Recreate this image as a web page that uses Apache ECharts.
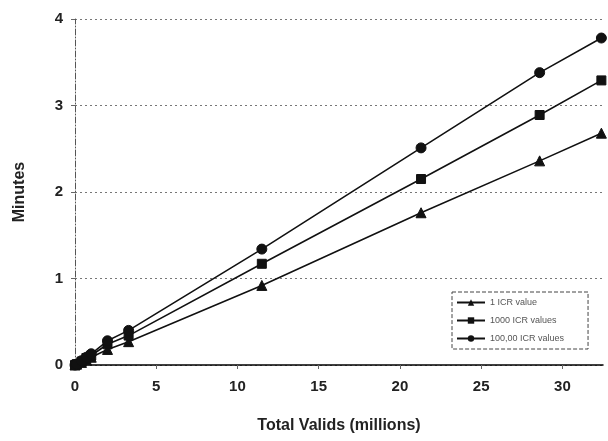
<!DOCTYPE html>
<html><head><meta charset="utf-8">
<script src="https://cdn.jsdelivr.net/npm/echarts@6/dist/echarts.min.js"></script>
<style>html,body{margin:0;padding:0;background:#fff}#c{width:608px;height:441px}</style>
</head><body><div id="c"></div>
<script>
var xValues = [0, 0.1, 0.4, 0.7, 1.0, 2.0, 3.3, 11.5, 21.3, 28.6, 32.4];
var oneICR = [0, 0.01, 0.03, 0.06, 0.09, 0.18, 0.27, 0.92, 1.76, 2.36, 2.68];
var thousandICR = [0, 0.01, 0.04, 0.08, 0.11, 0.24, 0.34, 1.17, 2.15, 2.89, 3.29];
var hundredThousandICR = [0, 0.01, 0.05, 0.09, 0.13, 0.28, 0.40, 1.34, 2.51, 3.38, 3.78];
var seriesNames = ['1 ICR value', '1000 ICR values', '100,00 ICR values'];
var xTicks = [0, 5, 10, 15, 20, 25, 30];
var yTicks = [0, 1, 2, 3, 4];

function pairs(ys){ return xValues.map(function(x,i){ return [x, ys[i]]; }); }
var symbols = ['triangle', 'rect', 'circle'];
var sizes = [10, 9, 10];
var data = [oneICR, thousandICR, hundredThousandICR];

var chart = echarts.init(document.getElementById('c'));
chart.setOption({
  animation: false,
  backgroundColor: '#fff',
  grid: {left: 75, right: 5, top: 19, bottom: 76, containLabel: false},
  legend: {
    orient: 'vertical', left: 452, top: 292,
    padding: [6, 24, 6, 4], itemGap: 9, itemWidth: 28, itemHeight: 8,
    borderColor: '#444', borderWidth: 1, borderType: 'dashed',
    textStyle: {fontFamily: 'Liberation Sans', fontSize: 9, color: '#555'},
    data: seriesNames
  },
  xAxis: {
    type: 'value', min: 0, max: 32.5, interval: 5,
    axisLine: {show: true, onZero: false, lineStyle: {color: '#000', width: 1.5}},
    axisTick: {show: true, inside: false, length: 4, lineStyle: {color: '#666'}},
    splitLine: {show: false},
    axisLabel: {showMaxLabel: false, margin: 14, fontFamily: 'Liberation Sans', fontWeight: 'bold', fontSize: 15, color: '#222',
      formatter: function(v){ return xTicks.indexOf(v) >= 0 ? String(v) : ''; }},
    name: 'Total Valids (millions)', nameLocation: 'middle', nameGap: 53,
    nameTextStyle: {fontFamily: 'Liberation Sans', fontWeight: 'bold', fontSize: 16, color: '#222'}
  },
  yAxis: {
    type: 'value', min: 0, max: 4, interval: 1,
    axisLine: {show: true, lineStyle: {color: '#555', width: 1, type: [6, 2, 1, 2]}},
    axisTick: {show: true, length: 4, lineStyle: {color: '#666'}},
    splitLine: {show: true, lineStyle: {color: '#777', width: 1, type: [2, 3]}},
    axisLabel: {margin: 12, fontFamily: 'Liberation Sans', fontWeight: 'bold', fontSize: 15, color: '#222',
      formatter: function(v){ return yTicks.indexOf(v) >= 0 ? String(v) : ''; }},
    name: 'Minutes', nameLocation: 'middle', nameGap: 47, nameRotate: 90,
    nameTextStyle: {fontFamily: 'Liberation Sans', fontWeight: 'bold', fontSize: 16, color: '#222'}
  },
  series: data.map(function(d, i){
    return {
      name: seriesNames[i], type: 'line', data: pairs(d),
      symbol: symbols[i], symbolSize: sizes[i], showAllSymbol: true,
      lineStyle: {color: '#111', width: 1.6},
      itemStyle: {color: '#111', borderColor: '#111'},
      z: 3 + i
    };
  })
});
</script></body></html>
